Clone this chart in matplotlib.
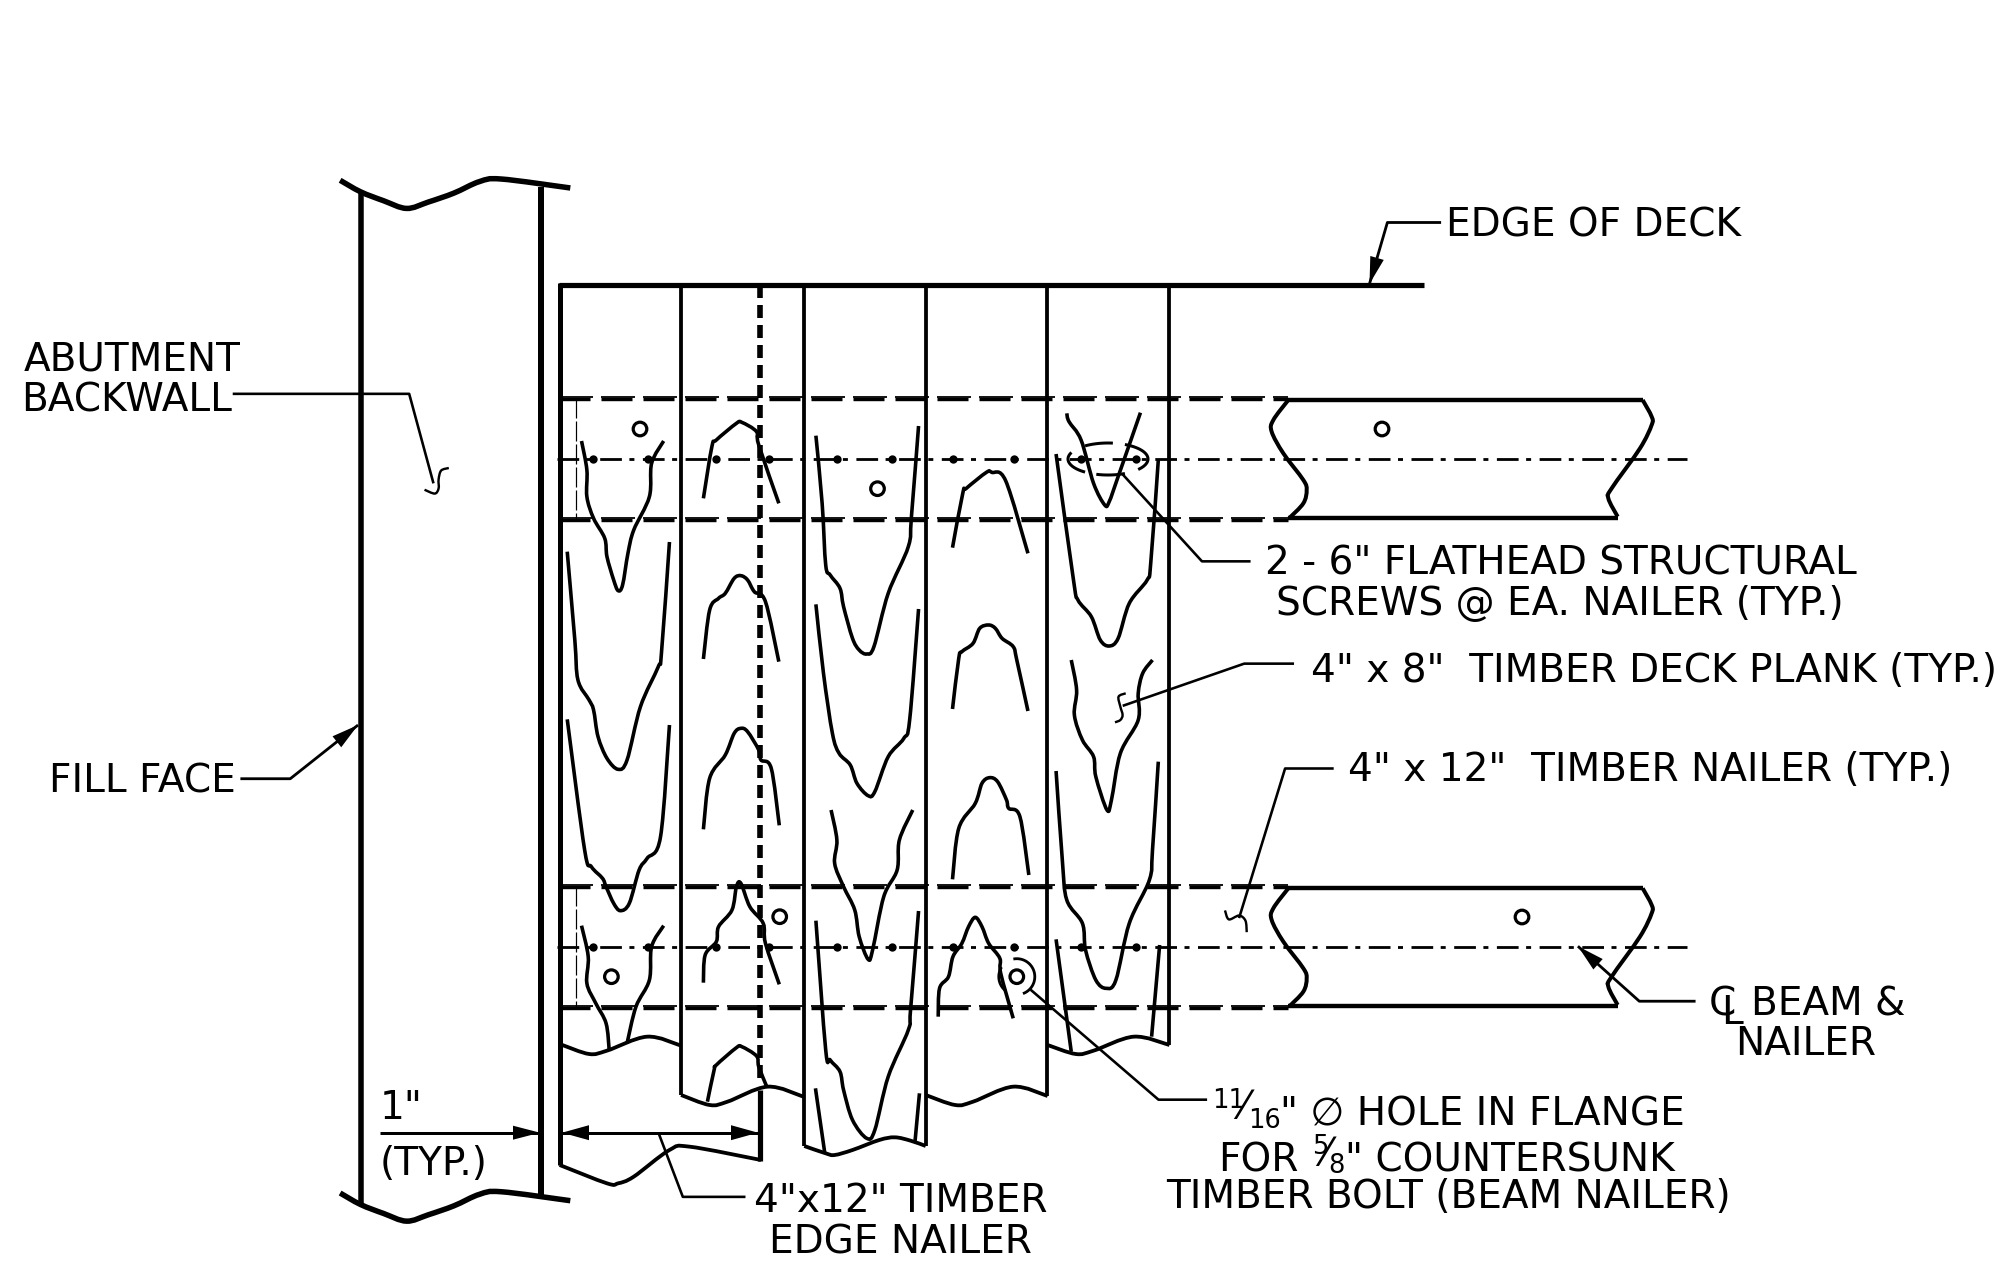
import matplotlib
matplotlib.use('Agg')
from matplotlib import pyplot as plt
from matplotlib.patches import Circle, PathPatch, Polygon
from matplotlib.path import Path
import numpy as np

plt.rcParams['lines.scale_dashes'] = False

W, H = 2005, 1269
S = 2005 / 1568
PT = 0.72           # px -> pt at dpi 100

GRAIN_TOP = [
    [(93,513),(105,600),(105,680),(120,745),(145,805),(150,860),(165,930),(175,962),(185,945),(197,850),(210,780),(245,680),(250,580),(277,513)],
    [(366,685),(385,530),(395,510),(440,460),(452,457),(485,485),(490,525),(535,700)],
    [(618,497),(632,700),(640,885),(650,915),(672,955),(680,1010),(700,1105),(715,1140),(732,1152),(748,1130),(780,970),(825,830),(832,740),(848,468)],
    [(924,833),(947,670),(955,655),(1000,607),(1012,607),(1043,632),(1093,850)],
    [(1180,430),(1185,455),(1212,510),(1240,640),(1265,705),(1275,695),(1295,620),(1345,428)],
    [(1156,552),(1195,930),(1205,990),(1235,1040),(1255,1110),(1275,1128),(1295,1105),(1320,1000),(1360,930),(1368,880),(1385,570)],
    [(366,1167),(380,1020),(400,985),(415,970),(435,925),(450,917),(465,930),(480,965),(505,995),(535,1175)],
]
GRAIN_MID = [
    [(61,-265),(78,0),(85,120),(110,180),(120,210),(130,290),(150,355),(175,388),(195,360),(225,200),(265,80),(272,40),(290,-294)],
    [(61,238),(100,630),(115,680),(140,715),(148,740),(165,790),(180,812),(200,790),(222,690),(240,655),(270,590),(290,255)],
    [(366,568),(380,415),(415,345),(435,280),(450,265),(465,275),(490,330),(495,360),(518,385),(536,556)],
    [(618,-107),(635,100),(655,280),(670,340),(695,375),(710,430),(735,467),(750,455),(780,350),(815,295),(828,240),(848,-93)],
    [(652,510),(665,600),(660,670),(680,740),(705,810),(715,890),(735,958),(745,930),(770,770),(800,690),(805,600),(835,510)],
    [(924,207),(938,55),(945,35),(970,10),(985,-35),(1005,-45),(1020,-35),(1035,-5),(1060,20),(1068,60),(1093,213)],
    [(924,718),(938,565),(975,490),(990,430),(1007,413),(1025,425),(1045,480),(1050,505),(1075,530),(1095,705)],
    [(1190,60),(1202,150),(1197,225),(1215,300),(1240,350),(1245,410),(1270,510),(1280,480),(1300,340),(1340,240),(1340,160),(1350,100),(1372,60)],
]
GRAIN_LOW = [
    [(93,197),(108,290),(105,370),(125,430),(148,490),(155,570)],
    [(277,197),(250,260),(245,360),(215,440),(195,550)],
    [(366,368),(370,285),(395,245),(400,200),(430,150),(440,80),(450,70),(470,140),(500,190),(505,250),(536,373)],
    [(375,725),(390,630),(395,615),(440,563),(452,560),(485,588),(490,620),(508,680)],
    [(618,182),(640,570),(650,600),(672,635),(680,690),(700,780),(732,835),(750,810),(780,650),(825,510),(830,450),(848,153)],
    [(617,685),(638,880)],
    [(850,700),(840,845)],
    [(892,470),(895,385),(915,350),(925,290),(945,250),(960,200),(975,172),(990,200),(1005,250),(1030,295),(1032,340),(1060,475)],
    [(1156,-267),(1170,0),(1180,120),(1215,190),(1222,270),(1245,360),(1268,385),(1290,360),(1320,190),(1365,60),(1372,-30),(1385,-295)],
    [(1156,238),(1190,575)],
    [(1388,255),(1370,530)],
]

# plank ends along the bottom, same crop as GRAIN_LOW
PLANK_ENDS = [
    [(44,915),(150,970),(175,970),(210,950),(290,870),(335,860),(495,900)],
    [(50,555),(110,582),(150,572),(240,530),(316,557)],
    [(316,705),(380,735),(420,725),(510,680),(590,710)],
    [(592,858),(640,880),(660,885),(700,870),(760,840),(795,832),(830,842),(864,858)],
    [(864,705),(930,735),(970,725),(1060,680),(1137,708)],
    [(1137,555),(1200,582),(1240,572),(1330,530),(1410,555)],
]
PLANK_X = [532.6, 628.9, 723.8, 819, 914.4]
PLANK_BOTTOM = [856, 896, 896, 857, 817]

BACKWALL_BREAK = [(266,141),(282,150),(300,157),(318,163),(335,158),(355,151),(375,142),(392,140),(446,147)]
BACKWALL_SHIFT = 792

# beam in px, crop x0=1240 y0=370, 3x
BEAM_LEFT = [(145,90),(100,150),(95,185),(130,250),(190,330),(200,360),(190,400),(147,445)]
BEAM_RIGHT = [(1208,90),(1235,140),(1235,165),(1200,235),(1115,355),(1105,385),(1133,440)]
BEAM_Y = [(400, 518, 459, 398.3, 519.3), (888.3, 1005.7, 947, 886, 1006.7)]

SCREW_X = [592.7, 648.5, 715.8, 769.3, 837.3, 891.8, 952.7, 1014.5, 1081, 1136]
HOLES = [(640,429),(877.5,488.7),(1382,429),(1522,917),(779.7,916.7),(611.4,976.7),(1016.8,976.7)]

# leaders in the 1568 view
LEADER_DECK = [(1127,174),(1085,174),(1071,222)]
LEADER_ABUT = [(182,308),(320,308),(339,378)]
LEADER_FILL = [(188,609),(227,609),(280,567)]
LEADER_SCREW = [(978,439),(940,439),(878,371)]
LEADER_PLANK = [(1012,519),(973,519),(878,552)]
LEADER_NAILER = [(1043,601),(1005,601),(969,718)]
LEADER_CL = [(1326,783),(1282,783),(1234,740)]
LEADER_HOLE = [(944,860),(906,860),(806,774)]
LEADER_EDGE = [(583,936),(534,936),(515,886)]

SQUIGGLE_ABUT = [(351,366),(345,368),(343,375),(343,382),(340,386),(332,383)]
SQUIGGLE_PLANK = [(1312,160),(1296,170),(1300,200),(1305,225),(1300,240),(1288,247)]
SQUIGGLE_NAILER = [(958,712),(961,719),(969,716),(974,720),(975,729)]

TEXT_SIZE = 28.1
SMALL_SIZE = 18.5
LABELS = [
    ('EDGE OF DECK', 1131, 185, 'left'),
    ('ABUTMENT', 103.5, 290, 'center'),
    ('BACKWALL', 99, 322, 'center'),
    ('FILL FACE', 38, 620, 'left'),
    ('2 - 6" FLATHEAD STRUCTURAL', 989, 449, 'left'),
    ('SCREWS @ EA. NAILER (TYP.)', 998, 481, 'left'),
    ('4" x 8"  TIMBER DECK PLANK (TYP.)', 1025, 533, 'left'),
    ('4" x 12"  TIMBER NAILER (TYP.)', 1054, 611, 'left'),
    ('C', 1336, 794, 'left'),
    ('L', 1346, 801, 'left'),
    ('BEAM &', 1369, 794, 'left'),
    ('NAILER', 1412, 825, 'center'),
    ('" \u2205 HOLE IN FLANGE', 1001, 880, 'left'),
    ('FOR', 953, 916, 'left'),
    ('" COUNTERSUNK', 1052, 916, 'left'),
    ('TIMBER BOLT (BEAM NAILER)', 912, 945, 'left'),
    ('1"', 297, 875, 'left'),
    ('(TYP.)', 297, 919, 'left'),
    ('4"x12" TIMBER', 590, 948, 'left'),
    ('EDGE NAILER', 704, 980, 'center'),
]
FRACTIONS = [
    ('11', 948, 866.5, 'left'),
    ('16', 976, 882, 'left'),
    ('5', 1026, 902.5, 'left'),
    ('8', 1039, 917.5, 'left'),
]
SLASHES = [(970, 874), (1034, 911)]


def crop(points, y0, x0=540, zx=2.24, zy=3):
    return [(x0 + p[0] / zx, y0 + p[1] / zy) for p in points]


def view(points):
    return [(p[0] * S, p[1] * S) for p in points]


def line(ax, points, px=3.0, **kw):
    xs, ys = zip(*points)
    ax.plot(xs, ys, color='k', lw=px * PT, solid_capstyle='butt', solid_joinstyle='round', **kw)


def curve(ax, points, px=3.6):
    # smooth path through the points (catmull-rom handles)
    p = np.array(points, dtype=float)
    q = np.vstack([p[0], p, p[-1]])
    verts = [p[0]]
    codes = [Path.MOVETO]
    for i in range(1, len(q) - 2):
        verts += [q[i] + (q[i + 1] - q[i - 1]) / 6, q[i + 1] - (q[i + 2] - q[i]) / 6, q[i + 1]]
        codes += [Path.CURVE4] * 3
    ax.add_patch(PathPatch(Path(verts, codes), fill=False, ec='k', lw=px * PT, capstyle='butt', joinstyle='round'))


def arc(ax, center, w, h, t1, t2, px=3.0):
    # y points down here, so angles run clockwise on the page
    t = np.radians(np.linspace(t1, t2, 40))
    ax.plot(center[0] + w / 2 * np.cos(t), center[1] + h / 2 * np.sin(t), color='k', lw=px * PT, solid_capstyle='butt')


def arrow(ax, tip, tail, length=27, width=14):
    tip = np.array(tip, dtype=float)
    d = np.array(tail, dtype=float) - tip
    d = d / np.hypot(*d)
    n = np.array([-d[1], d[0]])
    base = tip + d * length
    ax.add_patch(Polygon([tip, base + n * width / 2, base - n * width / 2], fc='k', ec='none', zorder=5))


fig = plt.figure(figsize=(W / 100, H / 100), dpi=100)
ax = fig.add_axes([0, 0, 1, 1])
ax.set_xlim(0, W)
ax.set_ylim(H, 0)
ax.axis('off')

# abutment backwall
line(ax, [(282 * S, 150 * S), (282 * S, 942 * S)], 5.5)
line(ax, [(423 * S, 146 * S), (423 * S, 938 * S)], 6)
curve(ax, view(BACKWALL_BREAK), 5.5)
curve(ax, view([(x, y + BACKWALL_SHIFT) for x, y in BACKWALL_BREAK]), 5.5)

# deck edge and planks
line(ax, [(559, 285), (1424, 285)], 5.2)
line(ax, [(559.6, 283), (559.6, 1165)], 5)
for x, bottom in zip(PLANK_X, PLANK_BOTTOM):
    line(ax, [(x * S, 285), (x * S, bottom * S)], 3.8)
line(ax, [(760, 285), (760, 1078)], 5.6, dashes=(13 * PT, 7 * PT))
line(ax, [(760, 1090), (760, 1161)], 5.2)
for end in PLANK_ENDS:
    curve(ax, crop(end, 860), 3.8)

# beams
for top, bottom, mid, dash_top, dash_bottom in BEAM_Y:
    for y in (dash_top, dash_bottom):
        # two dash runs laid slightly apart, the gaps only show on one side
        line(ax, [(559, y - 1.2), (1288, y - 1.2)], 1.8, dashes=(34 * PT, 8 * PT))
        line(ax, [(559, y + 0.8), (1288, y + 0.8)], 3.4, dashes=(31 * PT, 11 * PT))
    line(ax, [(1288, top), (1643, top)], 4.4)
    line(ax, [(1288, bottom), (1618, bottom)], 4.4)
    shift = top - 400
    curve(ax, [(x, y + shift) for x, y in crop(BEAM_LEFT, 370, 1240, 3, 3)], 4)
    curve(ax, [(x, y + shift) for x, y in crop(BEAM_RIGHT, 370, 1240, 3, 3)], 4)
    line(ax, [(557, mid), (1687, mid)], 2.8, dashes=(21.7 * PT, 7.5 * PT, 5 * PT, 8.5 * PT))
    ax.plot(SCREW_X, [mid] * len(SCREW_X), 'o', color='k', ms=6, mew=0)
    line(ax, [(576, top - 2), (576, bottom + 2)], 1.2, dashes=(20 * PT, 3 * PT))

# grain
for g in GRAIN_TOP:
    curve(ax, crop(g, 270))
for g in GRAIN_MID:
    curve(ax, crop(g, 640))
for g in GRAIN_LOW:
    curve(ax, crop(g, 860))

# holes and screw/bolt callouts
for x, y in HOLES:
    ax.add_patch(Circle((x, y), 6.8, fill=False, ec='k', lw=3.2 * PT))
for t1, t2 in [(235, 277), (-65, 41), (125, 204), (65, 107)]:
    arc(ax, (1108, 459), 80, 32, t1, t2)
arc(ax, (1016.8, 976.7), 36, 36, -101, 70, 2.8)
arc(ax, (1016.8, 976.7), 36, 36, 127, 212, 2.8)

# leaders
for pts in (LEADER_DECK, LEADER_FILL, LEADER_CL):
    pts = view(pts)
    line(ax, pts, 2.8)
    arrow(ax, pts[-1], pts[-2])
for pts in (LEADER_ABUT, LEADER_SCREW, LEADER_PLANK, LEADER_NAILER, LEADER_HOLE, LEADER_EDGE):
    line(ax, view(pts), 2.6)
curve(ax, view(SQUIGGLE_ABUT), 2.4)
curve(ax, crop(SQUIGGLE_PLANK, 640), 2.4)
curve(ax, view(SQUIGGLE_NAILER), 2.4)

# dimensions
line(ax, [(560, 1132.7), (760, 1132.7)], 3)
arrow(ax, (562, 1132.7), (760, 1132.7), 27, 15)
arrow(ax, (758, 1132.7), (560, 1132.7), 27, 15)
line(ax, [(380, 1132.7), (540, 1132.7)], 3)
arrow(ax, (540, 1132.7), (380, 1132.7), 27, 14)

# text
for s, x, y, ha in LABELS:
    ax.text(x * S, y * S, s, fontsize=TEXT_SIZE, ha=ha, va='baseline', family='DejaVu Sans', color='k')
for s, x, y, ha in FRACTIONS:
    ax.text(x * S, y * S, s, fontsize=SMALL_SIZE, ha=ha, va='baseline', family='DejaVu Sans', color='k')
for x, y in SLASHES:
    ax.text(x * S, y * S, '\u2044', fontsize=TEXT_SIZE, ha='left', va='baseline', family='DejaVu Sans', color='k')

fig.savefig('out.png', dpi=100, facecolor='white')
